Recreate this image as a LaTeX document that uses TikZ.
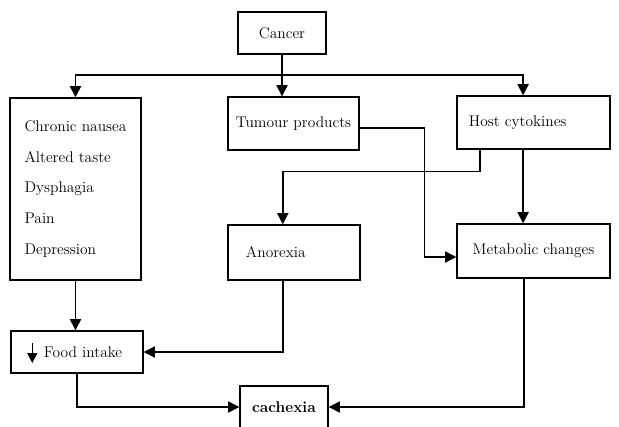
\documentclass[tikz,border=0pt]{standalone}
\usetikzlibrary{arrows.meta,positioning}

\begin{document}
\begin{tikzpicture}[x=0.025cm, y=-0.025cm,
		box/.style={draw, line width=1pt, fill=white, inner sep=0pt, font=\fontsize{11}{13}\selectfont},
		link/.style={line width=1pt, -{Triangle[length=8pt, width=8pt]}},
	]
		\useasboundingbox (0,0) rectangle (619,427);

		\node (cancer) [box, minimum width=2.2cm, minimum height=1.05cm] at (282,33) {Cancer};
		\node (causes) [box, minimum width=3.275cm, minimum height=4.55cm, align=left, font=\fontsize{11}{22}\selectfont] at (75.5,189)
			{Chronic nausea\\Altered taste\\Dysphagia\\Pain\\Depression};
		\node (tumour) [box, minimum width=3.275cm, minimum height=1.325cm] at (293.5,123.5) {Tumour products};
		\node (host) [box, text width=3.225cm, inner xsep=0.3cm, align=left, minimum height=1.325cm] at (533.5,122.5) {Host cytokines};
		\node (anorexia) [box, text width=2.4cm, inner xsep=0.45cm, align=left, minimum height=1.375cm] at (294,252.5) {Anorexia};
		\node (metabolic) [box, minimum width=3.825cm, minimum height=1.35cm] at (533.5,251) {Metabolic changes};
		\node (food) [box, text width=2.65cm, inner xsep=0.325cm, align=left, minimum height=1.05cm] at (77,352) {\hspace*{0.5cm}Food intake};
		\node (cachexia) [box, minimum width=2.2cm, minimum height=1.05cm, font=\fontsize{11}{13}\selectfont\bfseries] at (284,407) {cachexia};
		\coordinate (fork) at (282,75);

		% down arrow in front of the food intake text
		\draw[line width=1pt, -{Triangle[length=7pt, width=7pt]}] ([xshift=0.55cm, yshift=0.225cm]food.west) -- ++(0,20);

		\draw[link] (cancer.south) -- (cancer.south |- tumour.north);
		\draw[link] (fork) -| (causes.north);
		\draw[link] (fork) -| ([xshift=-0.26cm]host.north);

		\draw[link] ([yshift=-0.11cm]tumour.east) -- ++(65,0) |- ([yshift=-0.15cm]metabolic.west);
		\draw[link] ([xshift=-1.34cm]host.south) -- ++(0,22) -| ([xshift=-0.28cm]anorexia.north);
		\draw[link] ([xshift=-0.26cm]host.south) -- ([xshift=-0.26cm]metabolic.north);

		\draw[link] (causes.south) -- (causes.south |- food.north);
		\draw[link] ([xshift=-0.28cm]anorexia.south) |- (food.east);
		\draw[link] (food.south) |- (cachexia.west);
		\draw[link] ([xshift=-0.24cm]metabolic.south) |- (cachexia.east);
	\end{tikzpicture}
\end{document}
